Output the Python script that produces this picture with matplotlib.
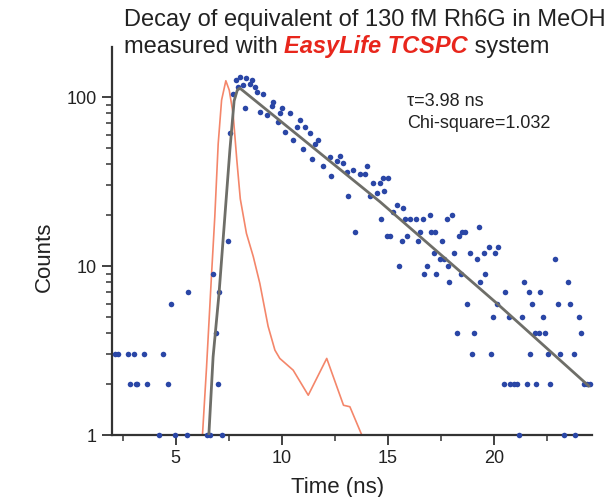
import matplotlib
matplotlib.use("Agg")
import matplotlib.pyplot as plt
from matplotlib.ticker import FixedLocator, NullFormatter, FixedFormatter, LogLocator

plt.rcParams['font.family'] = ['Liberation Sans', 'DejaVu Sans']

# Measured decay: (time in ns, photon counts)
decay_time = [
    2.12, 2.28, 2.75, 2.83, 3.03, 3.11, 3.19, 3.51, 3.67, 4.21, 4.40, 4.64, 4.80, 4.95,
    5.53, 5.58, 6.48, 6.60, 6.76, 6.89, 7.00, 7.04, 7.20, 7.47, 7.55, 7.70, 7.86, 7.94,
    8.02, 8.17, 8.25, 8.33, 8.49, 8.57, 8.73, 8.81, 8.96, 9.12, 9.28, 9.51, 9.59, 9.83,
    9.91, 9.99, 10.14, 10.40, 10.50, 10.69, 10.85, 11.00, 11.08, 11.32, 11.40, 11.56,
    11.71, 11.95, 12.26, 12.30, 12.58, 12.74, 12.89, 13.05, 13.13, 13.36, 13.44, 13.68,
    13.92, 14.00, 14.15, 14.31, 14.47, 14.62, 14.66, 14.78, 14.82, 14.94, 15.01, 15.09,
    15.25, 15.41, 15.53, 15.65, 15.72, 15.80, 15.90, 16.04, 16.30, 16.43, 16.51, 16.63,
    16.71, 16.83, 16.98, 17.02, 17.14, 17.22, 17.26, 17.45, 17.53, 17.61, 17.77, 17.80,
    17.89, 18.00, 18.08, 18.24, 18.32, 18.44, 18.48, 18.63, 18.71, 18.87, 18.95, 19.06,
    19.18, 19.26, 19.34, 19.50, 19.58, 19.73, 19.86, 19.94, 20.05, 20.13, 20.18, 20.44,
    20.52, 20.68, 20.75, 20.91, 21.07, 21.15, 21.31, 21.39, 21.54, 21.62, 21.70, 21.78,
    21.93, 21.97, 22.09, 22.17, 22.30, 22.41, 22.51, 22.61, 22.88, 23.00, 23.08, 23.27,
    23.46, 23.55, 23.77, 23.82, 23.98, 24.06, 24.21, 24.37, 24.52,
]
decay_counts = [
    3, 3, 3, 2, 3, 2, 2, 3, 2, 1, 3, 2, 6, 1,
    1, 7, 1, 1, 9, 4, 2, 7, 1, 14, 61, 105, 126, 115,
    132, 118, 86, 129, 120, 126, 115, 107, 82, 105, 78, 88, 94, 71,
    80, 86, 62, 80, 56, 67, 73, 49, 67, 61, 43, 53,
    56, 39, 44, 34, 42, 45, 41, 36, 26, 37, 16, 35,
    35, 39, 26, 31, 27, 31, 19, 33, 28, 15, 33, 15,
    21, 23, 10, 14, 22, 19, 15, 19, 19, 14, 16, 19,
    9, 10, 20, 16, 12, 16, 9, 11, 14, 11, 19, 10,
    8, 20, 12, 4, 15, 9, 16, 16, 6, 12, 3, 4,
    11, 17, 8, 12, 9, 13, 3, 5, 12, 6, 13, 2,
    7, 5, 2, 2, 2, 1, 5, 8, 2, 7, 3, 6,
    4, 2, 4, 7, 5, 4, 3, 2, 11, 6, 3, 1,
    8, 6, 3, 1, 5, 4, 2, 2, 2,
]

# Instrument response function
irf_time = [6.26, 6.45, 6.68, 6.84, 7.00, 7.16, 7.36, 7.52, 7.70, 7.88, 8.04, 8.33,
            8.65, 8.96, 9.35, 9.67, 9.90, 10.53, 11.24, 12.11, 12.90, 13.20, 13.76]
irf_counts = [1.0, 2.5, 8.6, 19.6, 53, 96, 125, 110, 80, 42, 25, 15.6,
              11.4, 7.9, 4.4, 3.18, 2.84, 2.42, 1.72, 2.84, 1.50, 1.47, 1.0]

# Reconvolution fit (single exponential)
fit_time = [6.56, 6.76, 7.04, 7.55, 7.75, 7.90, 8.02, 14.62, 20.13, 24.45]
fit_counts = [1.0, 2.9, 6.9, 48.6, 95, 110, 113, 24, 6, 1.95]

tau_label = "τ=3.98 ns"
chi_label = "Chi-square=1.032"

x_major = [5, 10, 15, 20]
x_minor = [2.5, 7.5, 12.5, 17.5, 22.5]
y_major = [1, 10, 100]
y_major_labels = ["1", "10", "100"]

W, H = 614, 497
fig = plt.figure(figsize=(W / 100, H / 100), dpi=100)
ax = fig.add_axes([112 / W, 1 - 435 / H, (592 - 112) / W, (435 - 47) / H])

ax.plot(decay_time, decay_counts, linestyle='none', marker='o', markersize=4.0,
        color='#2a46a6', markeredgewidth=0, clip_on=False, zorder=3)
ax.plot(irf_time, irf_counts, color='#f4866a', lw=1.2, zorder=2)
ax.plot(fit_time, fit_counts, color='#6e6e68', lw=2.0, zorder=4)

ax.set_yscale('log')
ax.set_xlim(2.0, 24.6)
ax.set_ylim(1, 198)

ax.xaxis.set_major_locator(FixedLocator(x_major))
ax.xaxis.set_minor_locator(FixedLocator(x_minor))
ax.yaxis.set_major_locator(FixedLocator(y_major))
ax.yaxis.set_major_formatter(FixedFormatter(y_major_labels))
ax.yaxis.set_minor_locator(LogLocator(base=10, subs=range(2, 10)))
ax.yaxis.set_minor_formatter(NullFormatter())

for side in ('top', 'right'):
    ax.spines[side].set_visible(False)
for side in ('left', 'bottom'):
    ax.spines[side].set_linewidth(1.6)
    ax.spines[side].set_color('#333333')

ax.tick_params(which='major', direction='out', length=7, width=1.3, colors='#333333',
               labelsize=13, labelcolor='#222222', pad=4)
ax.tick_params(which='minor', direction='out', length=4, width=1.1, colors='#333333')

fig.text(44 / W, 1 - 257 / H, "Counts", rotation=90, ha='center', va='center',
         fontsize=16, color='#222222')
fig.text(338 / W, 1 - 487 / H, "Time (ns)", ha='center', va='center',
         fontsize=16, color='#222222')

fig.text(407 / W, 1 - 102 / H, tau_label, ha='left', va='center', fontsize=13, color='#222222')
fig.text(407 / W, 1 - 124 / H, chi_label, ha='left', va='center', fontsize=13, color='#222222')

# Two-line title with the highlighted system name
fig.text(124 / W, 1 - 20 / H, "Decay of equivalent of 130 fM Rh6G in MeOH",
         ha='left', va='center', fontsize=17, color='#222222')
t1 = fig.text(124 / W, 1 - 47 / H, "measured with ", ha='left', va='center',
              fontsize=17, color='#222222')
t2 = fig.text(0, 0, "EasyLife TCSPC", fontsize=17, color='#e8261c',
              fontweight='bold', fontstyle='italic')
t3 = fig.text(0, 0, " system", fontsize=17, color='#222222')

renderer = fig.canvas.get_renderer()
bb1 = t1.get_window_extent(renderer)
inv = fig.transFigure.inverted()
x1, y1 = inv.transform((bb1.x1, bb1.y0))
t2.set_position((x1, y1))
t2.set_va('bottom')
bb2 = t2.get_window_extent(renderer)
x2, _ = inv.transform((bb2.x1, bb2.y0))
t3.set_position((x2, y1))
t3.set_va('bottom')

fig.savefig("out.png", dpi=100)
